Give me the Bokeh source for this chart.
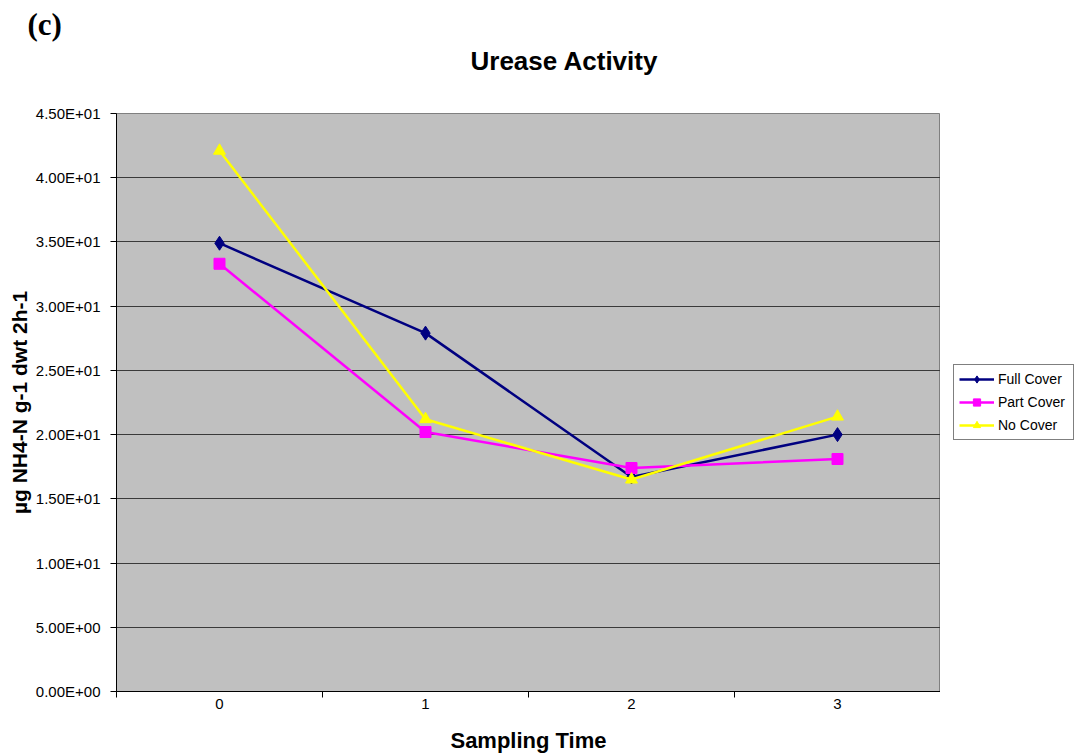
from bokeh.plotting import figure
from bokeh.models import FixedTicker, Legend, LegendItem, Title, Range1d
from bokeh.layouts import row
from bokeh.embed import file_html
from bokeh.resources import INLINE

times = [0, 1, 2, 3]
full_cover = [34.9, 27.9, 16.7, 20.0]
part_cover = [33.3, 20.2, 17.4, 18.1]
no_cover = [42.1, 21.2, 16.5, 21.4]
y_ticks = [0, 5, 10, 15, 20, 25, 30, 35, 40, 45]
y_labels = ["0.00E+00", "5.00E+00", "1.00E+01", "1.50E+01", "2.00E+01",
            "2.50E+01", "3.00E+01", "3.50E+01", "4.00E+01", "4.50E+01"]

FONT = "Liberation Sans"

p = figure(width=940, height=756, output_backend="svg", toolbar_location=None,
           x_range=Range1d(-0.5, 3.5), y_range=Range1d(0, 45),
           min_border_left=116, min_border_right=0, min_border_top=113,
           min_border_bottom=65)
p.background_fill_color = "#C0C0C0"
p.border_fill_color = "white"
p.outline_line_color = "#808080"
p.outline_line_width = 1

# outer title "(c)"
p.title.text = "(c)"
p.title.align = "left"
p.title.offset = -89
p.title.text_font = "Liberation Serif"
p.title.text_font_size = "31px"
p.title.text_font_style = "bold"
p.title.text_color = "black"
p.title.standoff = -70

p.add_layout(Title(text="Urease Activity", align="left", offset=354, text_font=FONT,
                   text_font_size="26px", text_font_style="bold", text_color="black",
                   standoff=75), "above")

# axes
p.xaxis.ticker = FixedTicker(ticks=times, minor_ticks=[-0.5, 0.5, 1.5, 2.5, 3.5])
p.xaxis.major_tick_line_color = None
p.xaxis.major_tick_out = 6
p.xaxis.minor_tick_out = 6
p.xaxis.minor_tick_in = 0
p.xaxis.minor_tick_line_color = "black"
p.xaxis.axis_line_color = "black"
p.xaxis.major_label_text_font = FONT
p.xaxis.major_label_text_font_size = "15px"
p.xaxis.major_label_text_color = "black"
p.xaxis.major_label_standoff = 1
p.xaxis.axis_label = "Sampling Time"
p.xaxis.axis_label_text_font = FONT
p.xaxis.axis_label_text_font_size = "22px"
p.xaxis.axis_label_text_font_style = "bold"
p.xaxis.axis_label_text_color = "black"
p.xaxis.axis_label_standoff = 16

p.yaxis.ticker = FixedTicker(ticks=y_ticks, minor_ticks=[])
p.yaxis.major_label_overrides = {t: l for t, l in zip(y_ticks, y_labels)}
p.yaxis.major_tick_out = 6
p.yaxis.major_tick_in = 0
p.yaxis.major_tick_line_color = "black"
p.yaxis.axis_line_color = "black"
p.yaxis.major_label_text_font = FONT
p.yaxis.major_label_text_font_size = "15px"
p.yaxis.major_label_text_color = "black"
p.yaxis.major_label_standoff = 10
p.yaxis.axis_label = "µg NH4-N g-1 dwt 2h-1"
p.yaxis.axis_label_text_font = FONT
p.yaxis.axis_label_text_font_size = "21px"
p.yaxis.axis_label_text_font_style = "bold"
p.yaxis.axis_label_text_color = "black"
p.yaxis.axis_label_standoff = 2

p.xgrid.grid_line_color = None
p.ygrid.grid_line_color = "#3a3a3a"
p.ygrid.grid_line_width = 1

series = [
    ("Full Cover", full_cover, "#000080", "diamond", 14),
    ("Part Cover", part_cover, "#FF00FF", "square", 11),
    ("No Cover", no_cover, "#FFFF00", "triangle", 12),
]

# legend lives in a narrow companion figure to the right of the plot
lf = figure(width=135, height=756, output_backend="svg", toolbar_location=None,
            x_axis_type=None, y_axis_type=None, min_border=0,
            x_range=Range1d(0, 1), y_range=Range1d(0, 1))
lf.outline_line_color = None
lf.background_fill_color = "white"
lf.border_fill_color = "white"

items = []
for name, vals, col, mk, sz in series:
    p.line(times, vals, line_color=col, line_width=2.5)
    p.scatter(times, vals, marker=mk, size=sz, fill_color=col, line_color=col)
    # off-screen proxy renderers, only used to draw the legend glyphs
    ll = lf.line([-10, -9], [-10, -9], line_color=col, line_width=2.5)
    lm = lf.scatter([-10], [-10], marker=mk, size=sz, fill_color=col, line_color=col)
    items.append(LegendItem(label=name, renderers=[ll, lm]))

legend = Legend(items=items, location=(13, 251), border_line_color="black",
                border_line_width=1, background_fill_color="white", background_fill_alpha=1,
                label_text_font=FONT, label_text_font_size="14px", label_text_color="black",
                glyph_width=35, glyph_height=18, label_height=18, label_width=70,
                spacing=5, padding=5, margin=0, label_standoff=4)
lf.add_layout(legend, "center")

layout = row(p, lf, spacing=0)
open("out.html", "w").write(file_html(layout, INLINE))
